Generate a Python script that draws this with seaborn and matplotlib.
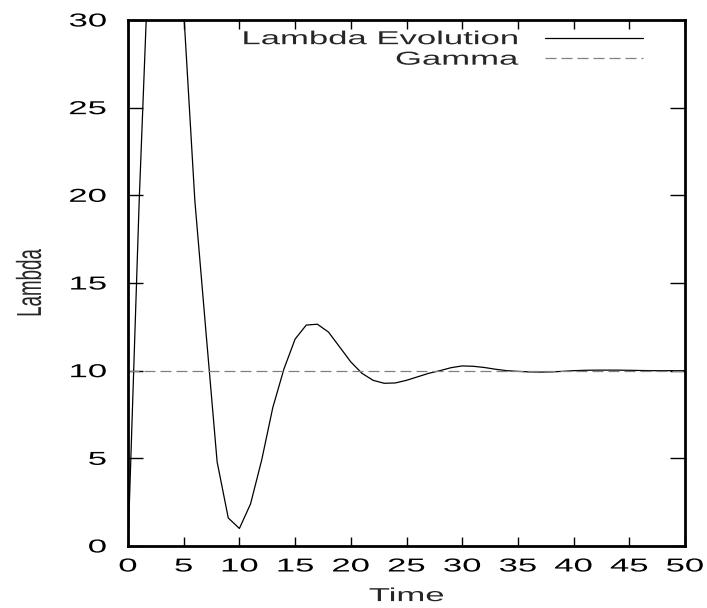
import matplotlib
matplotlib.use("Agg")
import matplotlib.pyplot as plt
import matplotlib.patheffects as pe
from matplotlib.transforms import Affine2D
import seaborn as sns
import pandas as pd

# ---- data ----
time = list(range(51))
lambda_evolution = [0, 19.6, 36, 41, 39, 30.5, 19.7, 12.2, 4.8, 1.6,
                    1.0, 2.4, 4.9, 7.9, 10.1, 11.8, 12.6, 12.65, 12.2, 11.35,
                    10.5, 9.85, 9.45, 9.28, 9.3, 9.45, 9.65, 9.85, 10.0, 10.17,
                    10.27, 10.25, 10.18, 10.08, 10.0, 9.96, 9.93, 9.92, 9.93, 9.96,
                    10.0, 10.02, 10.03, 10.03, 10.03, 10.02, 10.01, 10.0, 10.0, 10.0, 10.0]
gamma = [10.0] * 51
x_ticks = [0, 5, 10, 15, 20, 25, 30, 35, 40, 45, 50]
y_ticks = [0, 5, 10, 15, 20, 25, 30]

df = pd.DataFrame({"Time": time, "Lambda": lambda_evolution, "Gamma": gamma})

sns.set_style("white")
plt.rcParams['font.family'] = ['Liberation Sans', 'DejaVu Sans']
FS = 13.5
STRETCH = 1.85


class HStretch(pe.AbstractPathEffect):
    """Stretch text horizontally about an anchor of its box."""
    def __init__(self, text, sx, anchor="center"):
        super().__init__()
        self.text = text
        self.sx = sx
        self.anchor = anchor

    def draw_path(self, renderer, gc, tpath, affine, rgbFace=None):
        bb = self.text.get_window_extent(renderer)
        if self.anchor == "left":
            cx = bb.x0
        elif self.anchor == "right":
            cx = bb.x1
        else:
            cx = 0.5 * (bb.x0 + bb.x1)
        aff = affine + Affine2D().translate(-cx, 0).scale(self.sx, 1).translate(cx, 0)
        renderer.draw_path(gc, tpath, aff, rgbFace)


def stretch(t, anchor):
    t.set_path_effects([HStretch(t, STRETCH, anchor)])


fig = plt.figure(figsize=(7.07, 6.08), dpi=100)
ax = fig.add_axes([128 / 707, 62 / 608, 557 / 707, 526 / 608])

sns.lineplot(data=df, x="Time", y="Lambda", ax=ax, color="black",
             linewidth=0.9, label="Lambda Evolution")
sns.lineplot(data=df, x="Time", y="Gamma", ax=ax, color="#808080",
             linewidth=0.9, linestyle=(0, (8.8, 4.0)), label="Gamma")

ax.set_xlim(0, 50)
ax.set_ylim(0, 30)
ax.set_xticks(x_ticks)
ax.set_yticks(y_ticks)
ax.set_xticklabels([str(v) for v in x_ticks])
ax.set_yticklabels([str(v) for v in y_ticks])

ax.tick_params(axis='x', which='major', direction='in', length=6.5, width=1.0,
               top=True, bottom=True, pad=9, labelsize=FS, colors='black')
ax.tick_params(axis='y', which='major', direction='in', length=10.8, width=1.0,
               left=True, right=True, pad=15, labelsize=FS, colors='black')

for s in ax.spines.values():
    s.set_visible(True)
    s.set_linewidth(2.0)
    s.set_color("black")

ax.set_xlabel("Time", fontsize=FS)
ax.set_ylabel("Lambda", fontsize=FS)
ax.xaxis.set_label_coords(0.5, -0.08)
ax.yaxis.set_label_coords(-0.156, 0.5)

leg = ax.legend(loc='upper right', bbox_to_anchor=(0.9246, 0.979),
                frameon=False, markerfirst=False, handlelength=5.23,
                handletextpad=1.4, labelspacing=0.18, borderpad=0,
                borderaxespad=0, fontsize=FS)

for t in ax.get_xticklabels():
    stretch(t, "center")
for t in ax.get_yticklabels():
    stretch(t, "right")
for t in leg.get_texts():
    stretch(t, "right")
stretch(ax.xaxis.label, "center")
stretch(ax.yaxis.label, "center")

fig.savefig("out.png", dpi=100)
